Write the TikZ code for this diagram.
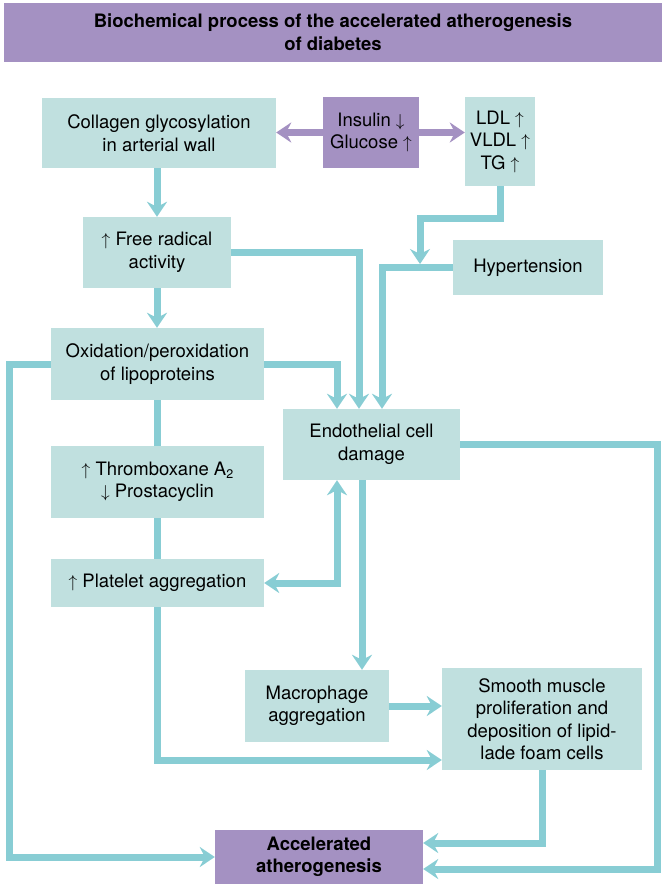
\documentclass[tikz,border=0pt]{standalone}
\usepackage{fontspec}
\setmainfont{TeX Gyre Heros}
\usetikzlibrary{arrows.meta,calc}
\definecolor{boxfill}{HTML}{C0E0DF}
\definecolor{conncol}{HTML}{88CDD4}
\definecolor{purp}{HTML}{A491C2}
\tikzset{
  tbox/.style={fill=boxfill, draw=none, align=center, inner sep=0pt, font=\fontsize{18.5}{22.5}\selectfont},
  pbox/.style={fill=purp, draw=none, align=center, inner sep=0pt, font=\fontsize{18.5}{22.5}\selectfont},
  tip/.tip={Stealth[length=15pt,width=20pt,inset=5pt]},
  conn/.style={draw=conncol, line width=7pt},
  pconn/.style={draw=purp, line width=7pt},
}
\begin{document}
\begin{tikzpicture}[x=1pt,y=-1pt]
\useasboundingbox (0,0) rectangle (662,884);
% header
\node[fill=purp, minimum width=658, minimum height=59, inner sep=0pt, align=center,
  font=\bfseries\fontsize{18.5}{23}\selectfont] (title) at (333,32.5)
  {Biochemical process of the accelerated atherogenesis\\of diabetes};
% boxes
\node[tbox, minimum width=234, minimum height=70] (col) at (159,133) {Collagen glycosylation\\in arterial wall};
\node[pbox, minimum width=96, minimum height=71] (ins) at (371,132.5) {Insulin $\downarrow$\\Glucose $\uparrow$};
\node[tbox, minimum width=70, minimum height=89] (ldl) at (500,141.5) {LDL $\uparrow$\\VLDL $\uparrow$\\TG $\uparrow$};
\node[tbox, minimum width=148, minimum height=71] (fr) at (157,252.5) {$\uparrow$ Free radical\\activity};
\node[tbox, minimum width=150, minimum height=55] (hyp) at (528,267.5) {Hypertension};
\node[tbox, minimum width=213, minimum height=72] (ox) at (157.5,364) {Oxidation/peroxidation\\of lipoproteins};
\node[tbox, minimum width=177, minimum height=71] (endo) at (371.5,444.5) {Endothelial cell\\damage};
\node[tbox, minimum width=213, minimum height=72] (thr) at (157.5,482) {$\uparrow$ Thromboxane A\raisebox{-0.35ex}{\fontsize{12.5}{12.5}\selectfont 2}\\$\downarrow$ Prostacyclin};
\node[tbox, minimum width=213, minimum height=48] (plat) at (157.5,583) {$\uparrow$ Platelet aggregation};
\node[tbox, minimum width=144, minimum height=72] (mac) at (317,706) {Macrophage\\aggregation};
\node[tbox, minimum width=200, minimum height=102] (sm) at (542,719) {Smooth muscle\\proliferation and\\deposition of lipid-\\lade foam cells};
\node[pbox, minimum width=208, minimum height=54, font=\bfseries\fontsize{18.5}{22.5}\selectfont] (acc) at (319,857) {Accelerated\\atherogenesis};
\coordinate (hj) at (420,264);
% connectors
\draw[pconn,-tip] (ins.west) -- (ins.west -| col.east);
\draw[pconn,-tip] (ins.east) -- (ins.east -| ldl.west);
\draw[conn,-tip] (fr.north |- col.south) -- (fr.north);
\draw[conn,-tip] (fr.south) -- (fr.south |- ox.north);
\draw[conn,-tip] (fr.east) -| ([xshift=-12.5pt]endo.north);
\draw[conn,-tip] (ldl.south) -- ++(0,32) -| (hj);
\draw[conn,-tip] (hyp.west) -| ([xshift=10.5pt]endo.north);
\draw[conn,-tip] (ox.east) -| ([xshift=-34.5pt]endo.north);
\draw[conn,-tip] (ox.west) -- ++(-41,0) |- (acc.west);
\draw[conn] (ox.south) -- (thr.north);
\draw[conn] (thr.south) -- (plat.north);
\draw[conn,-tip] (plat.south) |- ([yshift=-41pt]sm.west);
\draw[conn,tip-tip] ([xshift=-34.5pt]endo.south) |- (plat.east);
\draw[conn,-tip] ([xshift=-9.5pt]endo.south) -- ([xshift=-9.5pt]endo.south |- mac.north);
\draw[conn,-tip] (mac.east) -- (mac.east -| sm.west);
\draw[conn,-tip] (sm.south) |- ([yshift=14pt]acc.east);
\draw[conn,-tip] (endo.east) -- ++(197,0) |- ([yshift=-12pt]acc.east);
\end{tikzpicture}
\end{document}
